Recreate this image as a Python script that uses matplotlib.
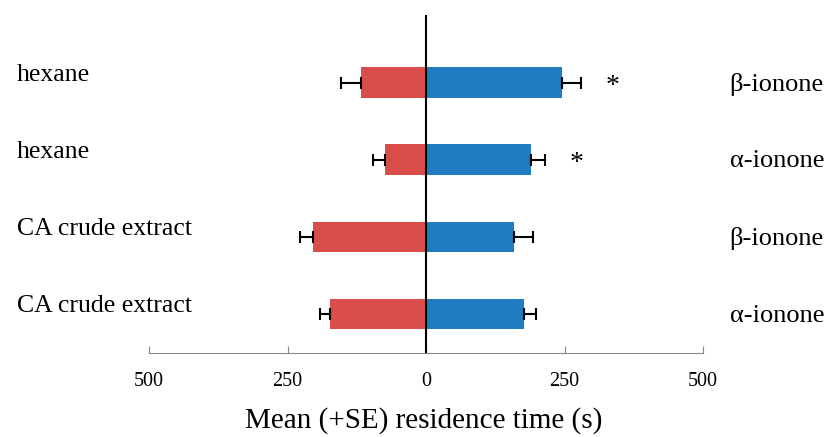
import numpy as np
import matplotlib
matplotlib.use("Agg")
import matplotlib.pyplot as plt
import matplotlib.transforms as mtransforms

# -------------------------
# DATA (top row first)
# -------------------------
left_labels = ["hexane", "hexane", "CA crude extract", "CA crude extract"]
right_labels = ["\u03b2-ionone", "\u03b1-ionone", "\u03b2-ionone", "\u03b1-ionone"]
control_mean = [117, 74, 204, 173]      # drawn to the left
control_se = [36, 22, 23, 18]
treat_mean = [245, 189, 159, 177]       # drawn to the right
treat_se = [35, 26, 34, 22]
significant = [True, True, False, False]
star_x = [336, 272, None, None]

red = "#D94E4A"
blue = "#1F7BC2"

plt.rcParams['font.family'] = ['Liberation Serif', 'DejaVu Serif']

fig = plt.figure(figsize=(8.29, 4.37), dpi=100)
ax = fig.add_axes([0.1797, 0.1922, 0.6685, 0.7735])

n = len(left_labels)
y = np.arange(n)[::-1]

ax.barh(y, [-v for v in control_mean], height=0.4, color=red)
ax.barh(y, treat_mean, height=0.4, color=blue)
ax.errorbar([-v for v in control_mean], y, xerr=[control_se, [0] * n],
            fmt='none', ecolor='black', elinewidth=1.5, capsize=4, capthick=1.5)
ax.errorbar(treat_mean, y, xerr=[[0] * n, treat_se],
            fmt='none', ecolor='black', elinewidth=1.5, capsize=4, capthick=1.5)

ax.axvline(0, color='black', lw=1.5)

for yi, sig, sx in zip(y, significant, star_x):
    if sig:
        ax.text(sx, yi - 0.05, "*", ha='center', va='center', fontsize=20)

trans = mtransforms.blended_transform_factory(fig.transFigure, ax.transData)
for yi, lab in zip(y, left_labels):
    ax.text(0.02, yi + 0.1, lab, transform=trans, ha='left', va='center',
            fontsize=18.5, clip_on=False)
for yi, lab in zip(y, right_labels):
    ax.text(0.937, yi - 0.02, lab, transform=trans, ha='center', va='center',
            fontsize=19, clip_on=False)

ax.set_xlim(-500, 500)
ax.set_ylim(-0.506, 3.88)
ax.set_xticks([-500, -250, 0, 250, 500])
ax.set_xticklabels(["500", "250", "0", "250", "500"], fontsize=14.5)
ax.set_yticks([])
for side in ['left', 'right', 'top']:
    ax.spines[side].set_visible(False)
ax.spines['bottom'].set_color('#888888')
ax.tick_params(axis='x', direction='in', length=5, color='#888888', pad=14)

fig.text(0.5115, 0.038, "Mean (+SE) residence time (s)", ha='center', va='center',
         fontsize=21)

fig.savefig("out.png", dpi=100)
